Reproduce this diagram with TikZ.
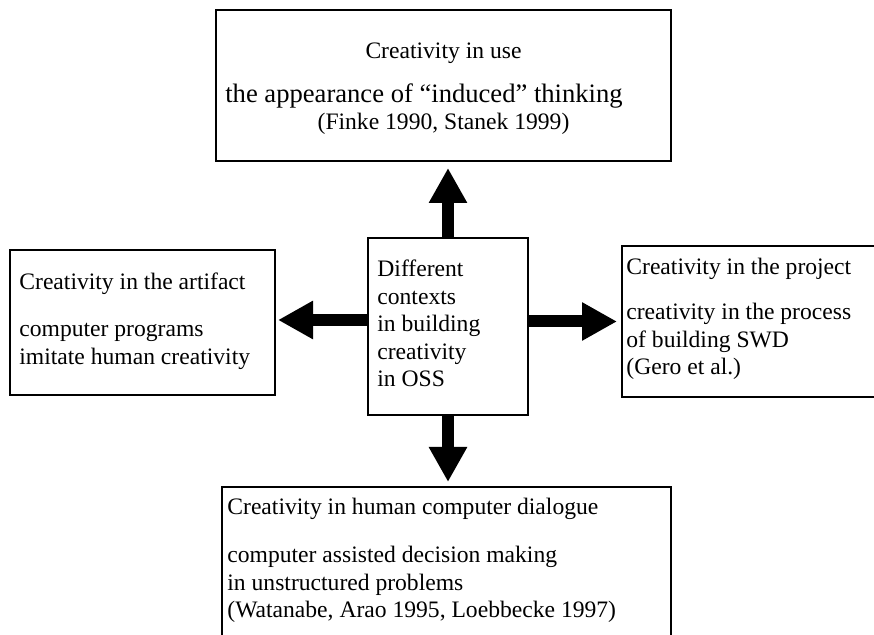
\documentclass[tikz,border=0pt]{standalone}
\usepackage{fontspec}
\setmainfont{Liberation Serif}
\usetikzlibrary{arrows.meta}

\begin{document}
\begin{tikzpicture}[x=1pt,y=-1pt,
  frame/.style={draw=black, line width=1pt, inner sep=0pt},
  txt/.style={inner sep=0pt, font=\fontsize{11.8pt}{13.75pt}\selectfont},
  bigarrow/.style={line width=6pt, -{Triangle[length=17.5pt,width=18pt]}}]
  \useasboundingbox (0,0) rectangle (437,317.5);
  \clip (0,0) rectangle (437,317.5);

  % frames
  \node[frame, minimum width=227.5pt, minimum height=75.5pt] (top)    at (221.75,42.75)  {};
  \node[frame, minimum width=80pt,    minimum height=88.5pt] (centre) at (224,163.25)    {};
  \node[frame, minimum width=132.5pt, minimum height=72.5pt] (left)   at (71.25,161.25)  {};
  \node[frame, minimum width=129pt,   minimum height=75.5pt] (right)  at (375.5,160.75)  {};
  \node[frame, minimum width=224.5pt, minimum height=81.5pt] (bottom) at (223.25,284.25) {};

  % texts
  \node[txt, anchor=north, align=center] (toptext) at ([yshift=-14.9pt]top.north)
    {\strut Creativity in use\\[8.25pt]
     {\fontsize{13.3pt}{13.75pt}\selectfont the appearance of “induced” thinking}\rule{19.5pt}{0pt}\\
     (Finke 1990, Stanek 1999)};
  \node[txt, anchor=north west, align=left] (centretext) at ([xshift=5pt,yshift=-10pt]centre.north west)
    {\strut Different\\ contexts\\ in building\\ creativity\\ in OSS};
  \node[txt, anchor=north west, align=left] (lefttext) at ([xshift=5pt,yshift=-10.5pt]left.north west)
    {\strut Creativity in the artifact\\[9.75pt]
     computer programs\\ imitate human creativity};
  \node[txt, anchor=north west, align=left] (righttext) at ([xshift=2.5pt,yshift=-5pt]right.north west)
    {\strut Creativity in the project\\[8.75pt]
     creativity in the process\\ of building SWD\\ (Gero et al.)};
  \node[txt, anchor=north west, align=left] (bottomtext) at ([xshift=3pt,yshift=-4.5pt]bottom.north west)
    {\strut Creativity in human computer dialogue\\[10.25pt]
     computer assisted decision making\\ in unstructured problems\\
     (Watanabe, Arao 1995, Loebbecke 1997)};

  % block arrows from the central box
  \draw[bigarrow, shorten >=3pt] (centre.north) -- (centre.north |- top.south);
  \draw[bigarrow, shorten >=2pt] (centre.south) -- (centre.south |- bottom.north);
  \draw[bigarrow, shorten >=1pt] ([yshift=1.25pt]centre.west |- left.east) -- ([yshift=1.25pt]left.east);
  \draw[bigarrow, shorten >=2pt] (centre.east |- right.west) -- (right.west);
\end{tikzpicture}
\end{document}
